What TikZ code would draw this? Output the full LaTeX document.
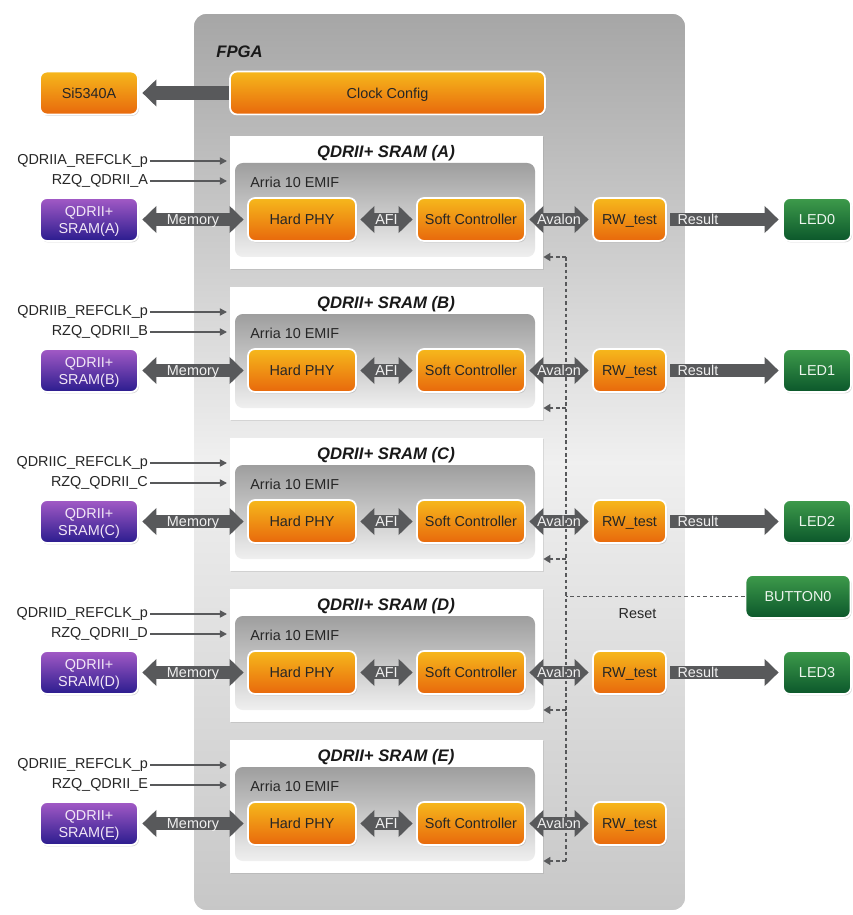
\documentclass[tikz,border=0pt]{standalone}
\usepackage{fontspec}
\setmainfont{Liberation Sans}
\usetikzlibrary{arrows.meta,positioning,fit,shadows}
\definecolor{arrgray}{HTML}{58595B}
\definecolor{orgtop}{HTML}{F6B81C}
\definecolor{orgbot}{HTML}{E8680C}
\definecolor{purtop}{HTML}{A35AC6}
\definecolor{purbot}{HTML}{2A1C8E}
\definecolor{grntop}{HTML}{3E9B4B}
\definecolor{grnbot}{HTML}{0B572B}
\tikzset{box/.style={draw=white,line width=1pt,rounded corners=4pt,align=center,minimum height=0.86cm,inner sep=2pt,
    text height=6pt,text depth=0pt,
    top color=orgtop,bottom color=orgbot,text=black!85,drop shadow={shadow xshift=0.6pt,shadow yshift=-0.8pt,opacity=0.3}},
  mem/.style={box,text height=15.8pt,top color=purtop,bottom color=purbot,text=white!85!purtop},
  led/.style={box,top color=grntop,bottom color=grnbot,text=white!90!grntop},
  fpgabg/.style={draw=white,line width=2.2pt,rounded corners=8pt,top color=black!35,bottom color=black!22,middle color=black!6,
    drop shadow={shadow xshift=0.5pt,shadow yshift=-0.5pt,opacity=0.2}},
  sec/.style={fill=white,inner sep=0pt,drop shadow={shadow xshift=0.8pt,shadow yshift=-0.8pt,opacity=0.2}},
  emif/.style={rounded corners=4.5pt,inner sep=0pt,top color=black!38,bottom color=black!6},
  title/.style={font=\fontsize{9.5}{11}\selectfont\bfseries\itshape,text=black!90},
  fat/.style={draw=arrgray,line width=7.8pt,shorten <=2pt,shorten >=2pt},
  one/.style={fat,-{Triangle[length=8pt,width=15pt]}},
  two/.style={fat,{Triangle[length=8pt,width=15pt]}-{Triangle[length=8pt,width=15pt]}},
  lbl/.style={text=white!88!gray,inner sep=0pt,text height=6pt,text depth=0pt},
  sig/.style={draw=arrgray,line width=0.9pt,-{Triangle[length=4pt,width=4pt]}},
  rst/.style={draw=arrgray,line width=1pt,dash pattern=on 2pt off 1.6pt}}
\begin{document}
\begin{tikzpicture}[x=0.02cm,y=-0.02cm,font=\fontsize{8.2}{9.8}\selectfont,text=black!85]
\useasboundingbox (0,0) rectangle (852,915);
\draw[fpgabg] (192,12) rectangle (687,912);
\node[anchor=west,inner sep=0pt,title] (fpga) at (216,52) {FPGA};
\node[box,minimum width=1.96cm] (si) at (89,93) {Si5340A};
\node[box,minimum width=6.3cm] (clkcfg) at (387.5,93) {Clock Config};
\draw[one,shorten <=0pt] (clkcfg) -- (si);
% one block per memory interface
\foreach \s/\y in {A/0,B/151,C/302,D/453,E/604}{
  \node[sec,fit={(230,136+\y) (543,269+\y)}] (sec\s) {};
  \node[emif,fit={(235,163+\y) (535,257+\y)}] (emif\s) {};
  \node[title] (ttl\s) at (386,153+\y) {QDRII+ SRAM (\s)};
  \node[anchor=west,inner sep=0pt] (emiflbl\s) at (250,182+\y) {Arria 10 EMIF};
  \node[box,minimum width=2.16cm] (phy\s) at (302,219.5+\y) {Hard PHY};
  \node[box,minimum width=2.16cm] (ctl\s) at (471,219.5+\y) {Soft Controller};
  \node[box,minimum width=1.46cm] (rw\s) at (629.5,219.5+\y) {RW\_test};
  \node[mem,minimum width=1.96cm] (sram\s) at (89,219.5+\y) {QDRII+\\SRAM(\s)};
  \node[anchor=east,inner sep=1pt] (clk\s) at (150,161+\y) {QDRII\s\_REFCLK\_p};
  \node[anchor=east,inner sep=1pt] (rzq\s) at (150,181+\y) {RZQ\_QDRII\_\s};
  \coordinate (clkin\s) at (227,161+\y);
  \coordinate (rzqin\s) at (227,181+\y);
  \coordinate (rst\s) at (566,257+\y);
  \draw[sig] (clk\s) -- (clkin\s);
  \draw[sig] (rzq\s) -- (rzqin\s);
  \draw[two] (sram\s) -- node[lbl]{Memory} (phy\s);
  \draw[two] (phy\s) -- node[lbl]{AFI} (ctl\s);
  \draw[two] (ctl\s) -- node[lbl]{Avalon} (rw\s);
  \draw[rst,-{Triangle[length=4pt,width=4.5pt]}] (rst\s) -- (rst\s -| sec\s.east);
}
\foreach \s/\n/\y in {A/0/0,B/1/151,C/2/302,D/3/453}{
  \node[led,minimum width=1.36cm] (led\s) at (817,219.5+\y) {LED\n};
  \draw[one] (rw\s) -- node[lbl,pos=0.27]{Result} (led\s);
}
\node[led,minimum width=2.1cm] (btn) at (798,596.5) {BUTTON0};
\draw[rst] (rstA) -- (rstE);
\draw[rst] (btn) -- node[pos=0.6,below=3pt]{Reset} (btn -| rstA);
\end{tikzpicture}
\end{document}
